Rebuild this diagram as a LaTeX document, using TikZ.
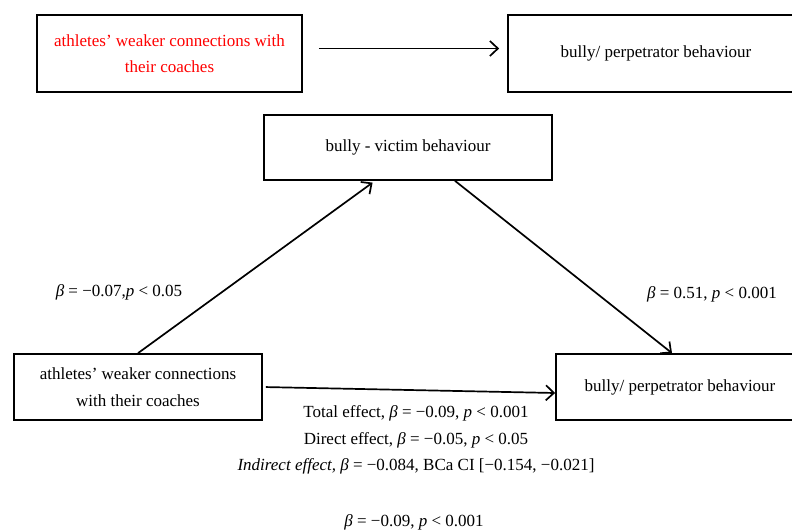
\documentclass[tikz,border=0pt]{standalone}
\usepackage{fontspec}
\setmainfont{Liberation Serif}
\usetikzlibrary{arrows.meta, calc}

\begin{document}
\begin{tikzpicture}[
    x=1pt, y=-1pt,
    >={Straight Barb[length=8pt, width=15pt]},
    every node/.style={font=\fontsize{17}{26.5}\selectfont},
    box/.style={draw, line width=1.7pt, align=center, inner sep=0pt},
    link/.style={->, line width=1.7pt},
]
\useasboundingbox (0, 0) rectangle (792, 532);
\clip (0, 0) rectangle (792, 532);

% Top row: simple path
\node[box, minimum width=265, minimum height=77, text=red] (redcause) at (169.5, 53.5)
    {athletes’ weaker connections with\\their coaches};
\node[box, minimum width=296, minimum height=77] (perptop) at (656, 53.5)
    {bully/ perpetrator behaviour};
\draw[link, shorten <=16pt, shorten >=8pt] ([yshift=5pt]redcause.east) -- ([yshift=5pt]perptop.west);

% Mediation model
\node[box, minimum width=288, minimum height=65] (victim) at (408, 147.5)
    {bully - victim behaviour};
\node[box, minimum width=248, minimum height=66] (cause) at (138, 387)
    {athletes’ weaker connections\\with their coaches};
\node[box, minimum width=248, minimum height=66] (perp) at (680, 387)
    {bully/ perpetrator behaviour};

\draw[link, shorten >=3pt] (cause.north) -- ([xshift=-33pt]victim.south);
\draw[link] ([xshift=47pt]victim.south) -- ([xshift=-8pt]perp.north);
\draw[link, shorten <=3pt] (cause.east) -- ([yshift=-6pt]perp.west);

% Path coefficients
\node (betaA) at (119, 292) {\textit{β} = −0.07,\textit{p} < 0.05};
\node (betaB) at (712, 294) {\textit{β} = 0.51, \textit{p} < 0.001};
\node[align=center] (effects) at (416, 440)
    {Total effect, \textit{β} = −0.09, \textit{p} < 0.001\\
     Direct effect, \textit{β} = −0.05, \textit{p} < 0.05\\
     \textit{Indirect effect,} \textit{β} = −0.084, BCa CI [−0.154, −0.021]};
\node (total) at (414, 522) {\textit{β} = −0.09, \textit{p} < 0.001};

\end{tikzpicture}
\end{document}
